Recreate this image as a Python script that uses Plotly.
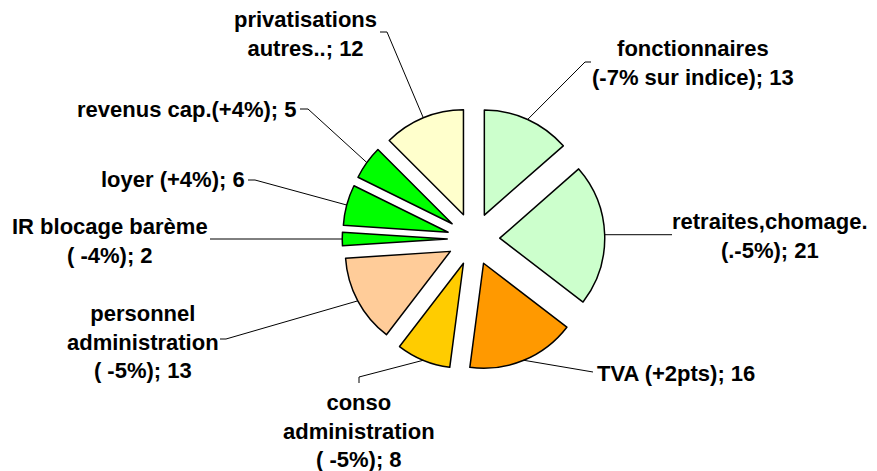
import numpy as np
import plotly.graph_objects as go

# page body has an 8px margin, so the figure is a bit smaller than the window
OFF = 8
W, H = 877 - OFF, 471 - OFF

labels = [
    "fonctionnaires<br>(-7% sur indice); 13",
    "retraites,chomage.<br>(.-5%); 21",
    "TVA (+2pts); 16",
    "conso<br>administration<br>( -5%); 8",
    "personnel<br>administration<br>( -5%); 13",
    "IR blocage barème<br>( -4%); 2",
    "loyer (+4%); 6",
    "revenus cap.(+4%); 5",
    "privatisations<br>autres..; 12",
]
values = [13, 21, 16, 8, 13, 2, 6, 5, 12]
colors = ["#CCFFCC", "#CCFFCC", "#FF9900", "#FFCC00", "#FFCC99",
          "#00FF00", "#00FF00", "#00FF00", "#FFFFCC"]

# pie geometry in window pixels
CX, CY = 473.5, 239
R = 105
PULL = 0.25
half = R * (1 + PULL)

# label placement: (x, y, xanchor) in window pixels, plus elbow points of the leader line
label_pos = [
    (693, 63, "center"),
    (770, 236, "center"),
    (595, 373, "left"),
    (359, 431, "center"),
    (143, 342, "center"),
    (110, 241, "center"),
    (247, 179, "right"),
    (298, 109, "right"),
    (305, 34, "center"),
]
elbows = [
    [(585, 62), (591, 62)],
    [(672, None)],
    [(593, 372)],
    [(359, 377), (359, 383)],
    [(226, 339), (220, 339)],
    [(210, None)],
    [(255, 180), (248, 180)],
    [(308, 109), (300, 109)],
    [(387, 32), (380, 32)],
]


def px(x):
    return (x - OFF) / W


def py(y):
    return 1 - (y - OFF) / H


fig = go.Figure(go.Pie(
    labels=labels,
    values=values,
    sort=False,
    direction="clockwise",
    rotation=0,
    pull=[PULL] * len(values),
    textinfo="none",
    hoverinfo="skip",
    marker=dict(colors=colors, line=dict(color="black", width=1.5)),
    domain=dict(x=[px(CX - half), px(CX + half)], y=[py(CY + half), py(CY - half)]),
    showlegend=False,
))

# leader lines from each slice's outer arc midpoint
total = sum(values)
cum = np.cumsum([0] + values[:-1])
shapes = []
for v, c, pts in zip(values, cum, elbows):
    ang = np.radians((c + v / 2) / total * 360)
    ax = CX + half * np.sin(ang)
    ay = CY - half * np.cos(ang)
    path = f"M {px(ax)},{py(ay)}"
    for ex, ey in pts:
        ey = ay if ey is None else ey
        path += f" L {px(ex)},{py(ey)}"
    shapes.append(dict(type="path", path=path, xref="paper", yref="paper",
                       line=dict(color="black", width=1)))

annotations = []
for lab, (x, y, anchor) in zip(labels, label_pos):
    annotations.append(dict(
        text=f"<b>{lab}</b>", x=px(x), y=py(y), xref="paper", yref="paper",
        xanchor=anchor, yanchor="middle", showarrow=False, align="center",
        font=dict(family="Liberation Sans, Arial", size=22, color="black"),
    ))

fig.update_layout(
    width=W, height=H,
    margin=dict(l=0, r=0, t=0, b=0),
    paper_bgcolor="white",
    plot_bgcolor="white",
    shapes=shapes,
    annotations=annotations,
)

fig.write_html("out.html")
